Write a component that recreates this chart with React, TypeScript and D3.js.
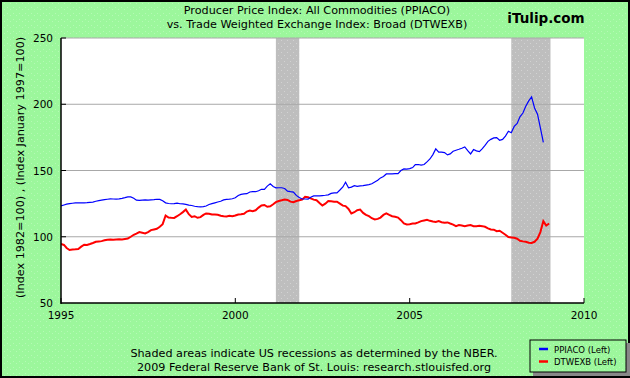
import React from "react";
import * as d3 from "d3";

const titleLines = [
  "Producer Price Index: All Commodities (PPIACO)",
  "vs.  Trade Weighted Exchange Index: Broad (DTWEXB)",
];
const brand = "iTulip.com";
const yAxisLabel = "(Index 1982=100) , (Index January 1997=100)";
const footerLines = [
  "Shaded areas indicate US recessions as determined by the NBER.",
  "2009 Federal Reserve Bank of St. Louis: research.stlouisfed.org",
];
const seriesNames = ["PPIACO (Left)", "DTWEXB (Left)"];
const seriesColors = ["#0000ff", "#ff0000"];
const yTicks = [50, 100, 150, 200, 250];
const xTickYears = [1995, 2000, 2005, 2010];
const recessions: [string, string][] = [
  ["2001-03-01", "2001-11-01"],
  ["2007-12-01", "2009-01-15"],
];

// PPIACO monthly, Jan 1995 .. Nov 2008
const ppiStart = "1995-01-01";
const ppiValues = [
  123.3, 124.0, 124.6, 125.0, 125.3, 125.5, 125.5, 125.6, 125.6, 125.7, 126.0, 126.2,
  126.8, 127.2, 127.6, 128.0, 128.3, 128.6, 128.5, 128.4, 128.6, 129.0, 129.5, 130.1,
  130.1, 129.0, 127.6, 127.4, 127.7, 127.8, 127.6, 127.8, 128.0, 128.3, 128.2, 127.2,
  125.6, 125.1, 124.9, 125.0, 125.4, 124.9, 124.8, 124.4, 123.9, 123.6, 123.0, 122.7,
  122.6, 122.8, 123.2, 124.3, 125.0, 125.6, 126.2, 126.8, 127.8, 128.2, 128.4, 128.7,
  129.4, 131.1, 132.0, 132.3, 132.5, 133.8, 134.0, 134.0, 134.7, 135.8, 135.8, 138.2,
  140.0, 137.9, 136.9, 137.0, 137.0, 136.4, 134.4, 134.0, 133.7, 131.2, 129.6, 128.5,
  128.5, 128.4, 129.8, 130.8, 130.8, 130.9, 131.1, 131.3, 131.6, 132.7, 133.1, 133.1,
  135.3, 137.6, 141.2, 137.0, 137.5, 138.6, 138.0, 138.4, 138.6, 139.0, 139.4, 140.0,
  141.4, 142.6, 144.4, 145.5, 147.4, 147.4, 147.5, 147.7, 147.6, 150.0, 151.2, 151.0,
  151.4, 152.2, 154.5, 154.5, 154.0, 154.5, 156.5, 158.7, 162.0, 166.3, 163.8, 163.8,
  163.5, 161.8, 162.5, 164.5, 165.3, 166.0, 166.8, 167.8, 165.0, 162.5, 165.8, 164.8,
  164.3, 166.5, 169.0, 172.0, 173.5, 174.6, 174.8, 172.8, 173.5, 176.0, 179.6, 178.5,
  183.3, 185.5, 190.5, 193.4, 198.5, 202.5, 205.5, 197.2, 192.5, 182.1, 171.3,
];

// DTWEXB monthly, Jan 1995 .. Jan 2009
const twStart = "1995-01-01";
const twValues = [
  94.5, 93.8, 91.5, 90.0, 90.3, 90.5, 90.8, 92.5, 94.0, 93.8, 94.5, 95.3,
  96.2, 96.5, 96.7, 97.3, 97.8, 98.0, 97.8, 98.0, 98.2, 98.0, 98.3, 98.6,
  100.0, 101.5, 102.4, 103.5, 103.0, 102.5, 103.5, 105.0, 105.5, 106.0, 107.5, 109.5,
  116.0, 114.5, 114.3, 114.2, 115.5, 117.0, 118.6, 120.5, 117.0, 115.0, 115.5, 114.3,
  114.8, 116.5, 117.6, 117.4, 116.8, 116.8, 116.6, 115.8, 115.5, 115.3, 115.8, 115.5,
  116.0, 116.8, 117.0, 117.3, 119.0, 119.8, 119.3, 120.0, 122.0, 123.6, 124.0, 122.6,
  123.0, 124.5, 126.1, 127.0, 127.5, 128.1, 127.8, 126.5, 126.1, 127.0, 127.6, 128.0,
  130.1, 129.8, 129.0, 128.0, 127.6, 125.5, 123.6, 125.0, 127.0, 126.8, 126.5, 126.4,
  125.0, 123.5, 123.1, 121.0, 117.6, 118.5, 120.0, 120.5, 118.0, 116.5, 115.5, 114.0,
  113.0, 113.5, 114.5, 116.5, 117.6, 116.5, 115.5, 115.1, 114.5, 112.5, 110.0, 109.3,
  109.5, 110.0, 110.0, 110.8, 111.8, 112.3, 112.8, 112.0, 111.5, 111.2, 111.8, 111.0,
  110.5, 110.8, 110.0, 109.2, 108.0, 108.8, 108.5, 108.0, 108.5, 108.8, 108.0, 108.0,
  108.3, 108.0, 107.5, 106.3, 105.5, 105.3, 104.2, 104.5, 103.0, 101.5, 99.8, 99.5,
  99.2, 98.5, 97.0, 96.5, 96.2, 95.5, 95.3, 96.2, 98.5, 103.5, 111.8, 108.5,
  110.0,
];

const W = 630;
const H = 378;
const M = { left: 61, right: 584, top: 38, bottom: 303 };
const FONT = "'DejaVu Sans', Verdana, sans-serif";

function toSeries(start: string, vals: number[]) {
  const s = new Date(start + "T00:00:00");
  return vals.map((v, i) => ({ date: d3.timeMonth.offset(s, i), value: v }));
}

export default function App() {
  const x = d3
    .scaleTime()
    .domain([new Date(1995, 0, 1), new Date(2010, 0, 1)])
    .range([M.left, M.right]);
  const y = d3.scaleLinear().domain([50, 250]).range([M.bottom, M.top]);

  const line = d3
    .line<{ date: Date; value: number }>()
    .x((d) => x(d.date))
    .y((d) => y(d.value));

  const ppi = toSeries(ppiStart, ppiValues);
  const tw = toSeries(twStart, twValues);

  return (
    <svg
      width={W}
      height={H}
      style={{ position: "absolute", left: 0, top: 0, display: "block" }}
      fontFamily={FONT}
    >
      <defs>
        <pattern id="greenTex" width="6" height="6" patternUnits="userSpaceOnUse">
          <rect width="6" height="6" fill="#9cf79c" />
          <rect x="1" y="1" width="1" height="1" fill="#b4fab4" />
          <rect x="4" y="3" width="1" height="1" fill="#b4fab4" />
        </pattern>
        <pattern id="grayTex" width="6" height="6" patternUnits="userSpaceOnUse">
          <rect width="6" height="6" fill="#bebebe" />
          <rect x="2" y="1" width="1" height="1" fill="#d2d2d2" />
          <rect x="5" y="4" width="1" height="1" fill="#d2d2d2" />
        </pattern>
        <clipPath id="plotClip">
          <rect x={M.left} y={M.top} width={M.right - M.left} height={M.bottom - M.top} />
        </clipPath>
      </defs>
      <rect x={0} y={0} width={W} height={H} fill="url(#greenTex)" />
      <rect x={1} y={1} width={W - 2} height={H - 2} fill="none" stroke="#000" strokeWidth={2} />

      {/* titles */}
      {titleLines.map((t, i) => (
        <text key={i} x={317} y={14 + i * 14} textAnchor="middle" fontSize={11.2} fill="#000">
          {t}
        </text>
      ))}
      <text x={546} y={23} textAnchor="middle" fontSize={13.5} fontWeight="bold" fill="#000">
        {brand}
      </text>

      {/* plot */}
      <rect x={M.left} y={M.top} width={M.right - M.left} height={M.bottom - M.top} fill="#fff" />
      {recessions.map(([a, b], i) => {
        const x0 = x(new Date(a + "T00:00:00"));
        const x1 = x(new Date(b + "T00:00:00"));
        return (
          <rect key={i} x={x0} y={M.top} width={x1 - x0} height={M.bottom - M.top} fill="url(#grayTex)" />
        );
      })}
      {yTicks.slice(1).map((t) => (
        <g key={t}>
          <line x1={M.left} x2={M.right} y1={y(t)} y2={y(t)} stroke="#a8a8a8" strokeWidth={1} />
          <line x1={M.left} x2={M.left + 5} y1={y(t)} y2={y(t)} stroke="#000" strokeWidth={1} />
        </g>
      ))}
      <g clipPath="url(#plotClip)">
        <path d={line(tw) || ""} fill="none" stroke={seriesColors[1]} strokeWidth={2} strokeLinejoin="miter" />
        <path d={line(ppi) || ""} fill="none" stroke={seriesColors[0]} strokeWidth={1.2} />
      </g>
      <line x1={M.left} x2={M.left} y1={M.top} y2={M.bottom + 1} stroke="#000" strokeWidth={1.5} />
      <line x1={M.left} x2={M.right} y1={M.bottom} y2={M.bottom} stroke="#000" strokeWidth={1.5} />
      {xTickYears.map((yr) => {
        const xx = x(new Date(yr, 0, 1));
        return (
          <g key={yr}>
            <line x1={xx} x2={xx} y1={M.bottom} y2={M.bottom - 5} stroke="#000" />
            <text x={xx} y={319} textAnchor="middle" fontSize={10.5} fill="#000">
              {yr}
            </text>
          </g>
        );
      })}
      {yTicks.map((t) => (
        <text key={t} x={53} y={y(t) + 4} textAnchor="end" fontSize={10.5} fill="#000">
          {t}
        </text>
      ))}
      <text
        transform={`translate(24,${(M.top + M.bottom) / 2 - 3}) rotate(-90)`}
        textAnchor="middle"
        fontSize={11.2}
        fill="#000"
      >
        {yAxisLabel}
      </text>

      {/* footer */}
      {footerLines.map((t, i) => (
        <text key={i} x={314} y={357 + i * 14} textAnchor="middle" fontSize={11.2} fill="#000">
          {t}
        </text>
      ))}

      {/* legend */}
      <rect x={533} y={343} width={97} height={33} fill="#888" />
      <rect x={530} y={340} width={96} height={32} fill="url(#greenTex)" stroke="#000" strokeWidth={1} />
      {seriesNames.map((n, i) => (
        <g key={n}>
          <line x1={539} x2={548} y1={349 + i * 12.5} y2={349 + i * 12.5} stroke={seriesColors[i]} strokeWidth={2.5} />
          <text x={554} y={352.5 + i * 12.5} fontSize={8.5} fill="#000">
            {n}
          </text>
        </g>
      ))}
    </svg>
  );
}
